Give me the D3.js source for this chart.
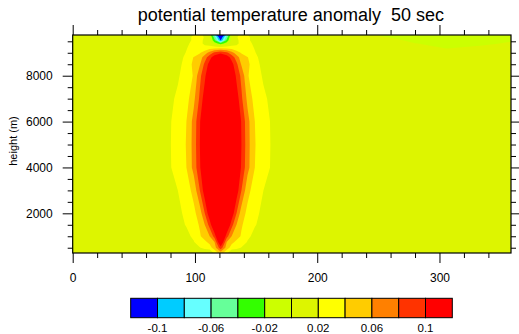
<!DOCTYPE html>
<html>
<head>
<meta charset="utf-8">
<script src="https://cdn.jsdelivr.net/npm/d3@7"></script>
<style>
  body { margin: 0; background: #fff; }
  svg { display: block; font-family: "Liberation Sans", Arial, Helvetica, sans-serif; }
</style>
</head>
<body>
<div id="chart"></div>
<script>
// grid columns (x) and rows (height in m)
const xs = [0, 61, 76, 86, 93, 99, 104, 108, 112, 116, 121, 126, 130, 134, 138, 143, 149, 156, 166, 181, 230, 250, 280, 306, 335, 358.5];
const zs = [270, 500, 750, 1000, 1500, 2000, 3000, 4000, 5000, 6000, 7000, 8000, 8500, 8800, 9000, 9200, 9400, 9550, 9680, 9775];

// potential temperature anomaly, one row per height (bottom -> top)
const z270  = [0.005, 0.006, 0.007, 0.008, 0.008, 0.008, 0.007, 0.003, -0.002, 0.025, 0.05, 0.025, -0.002, 0.003, 0.007, 0.008, 0.008, 0.008, 0.007, 0.006, 0.005, 0.003, -0.0005, -0.001, -0.0005, 0.003];
const z500  = [0.005, 0.006, 0.008, 0.009, 0.01, 0.012, 0.019, 0.026, 0.032, 0.05, 0.092, 0.05, 0.032, 0.026, 0.019, 0.012, 0.01, 0.009, 0.008, 0.006, 0.005, 0.005, 0.005, 0.005, 0.005, 0.005];
const z750  = [0.005, 0.007, 0.009, 0.011, 0.014, 0.019, 0.03, 0.036, 0.045, 0.06, 0.13, 0.06, 0.045, 0.036, 0.03, 0.019, 0.014, 0.011, 0.009, 0.007, 0.005, 0.005, 0.005, 0.005, 0.005, 0.005];
const z1000 = [0.005, 0.007, 0.01, 0.012, 0.016, 0.023, 0.038, 0.048, 0.06, 0.088, 0.15, 0.088, 0.06, 0.048, 0.038, 0.023, 0.016, 0.012, 0.01, 0.007, 0.005, 0.005, 0.005, 0.005, 0.005, 0.005];
const z1500 = [0.005, 0.008, 0.011, 0.015, 0.021, 0.032, 0.042, 0.06, 0.088, 0.13, 0.165, 0.13, 0.088, 0.06, 0.042, 0.032, 0.021, 0.015, 0.011, 0.008, 0.005, 0.005, 0.005, 0.005, 0.005, 0.005];
const z2000 = [0.005, 0.008, 0.012, 0.016, 0.024, 0.035, 0.05, 0.08, 0.115, 0.15, 0.17, 0.15, 0.115, 0.08, 0.05, 0.035, 0.024, 0.016, 0.012, 0.008, 0.005, 0.005, 0.005, 0.005, 0.005, 0.005];
const z3000 = [0.005, 0.008, 0.013, 0.02, 0.031, 0.046, 0.08, 0.112, 0.148, 0.168, 0.176, 0.168, 0.148, 0.112, 0.08, 0.046, 0.031, 0.02, 0.013, 0.008, 0.005, 0.005, 0.005, 0.005, 0.005, 0.005];
const z4000 = [0.005, 0.008, 0.014, 0.027, 0.04, 0.067, 0.097, 0.13, 0.156, 0.172, 0.178, 0.172, 0.156, 0.13, 0.097, 0.067, 0.04, 0.027, 0.014, 0.008, 0.005, 0.005, 0.005, 0.005, 0.005, 0.005];
const z5000 = [0.005, 0.008, 0.014, 0.028, 0.041, 0.068, 0.1, 0.135, 0.16, 0.175, 0.18, 0.175, 0.16, 0.135, 0.1, 0.068, 0.041, 0.028, 0.014, 0.008, 0.005, 0.005, 0.005, 0.005, 0.005, 0.005];
const z6000 = [0.005, 0.008, 0.014, 0.027, 0.04, 0.067, 0.098, 0.131, 0.157, 0.172, 0.178, 0.172, 0.157, 0.131, 0.098, 0.067, 0.04, 0.027, 0.014, 0.008, 0.005, 0.005, 0.005, 0.005, 0.005, 0.005];
const z7000 = [0.005, 0.008, 0.013, 0.023, 0.032, 0.055, 0.084, 0.112, 0.145, 0.165, 0.175, 0.165, 0.145, 0.112, 0.084, 0.055, 0.032, 0.023, 0.013, 0.008, 0.005, 0.005, 0.005, 0.005, 0.005, 0.005];
const z8000 = [0.005, 0.008, 0.012, 0.018, 0.028, 0.042, 0.075, 0.095, 0.125, 0.15, 0.165, 0.15, 0.125, 0.095, 0.075, 0.042, 0.028, 0.018, 0.012, 0.008, 0.005, 0.005, 0.005, 0.005, 0.005, 0.005];
const z8500 = [0.005, 0.007, 0.008, 0.012, 0.03, 0.044, 0.058, 0.085, 0.108, 0.128, 0.14, 0.128, 0.108, 0.085, 0.058, 0.044, 0.03, 0.012, 0.008, 0.007, 0.005, 0.005, 0.005, 0.005, 0.005, 0.005];
const z8800 = [0.005, 0.006, 0.008, 0.011, 0.025, 0.041, 0.05, 0.07, 0.092, 0.112, 0.125, 0.112, 0.092, 0.07, 0.05, 0.041, 0.025, 0.011, 0.008, 0.006, 0.005, 0.005, 0.005, 0.005, 0.005, 0.005];
const z9000 = [0.005, 0.005, 0.007, 0.011, 0.021, 0.03, 0.038, 0.05, 0.068, 0.085, 0.095, 0.085, 0.068, 0.05, 0.038, 0.03, 0.021, 0.011, 0.007, 0.005, 0.005, 0.005, 0.004, 0.003, 0.004, 0.004];
const z9200 = [0.005, 0.005, 0.007, 0.01, 0.019, 0.028, 0.03, 0.028, 0.033, 0.038, 0.04, 0.038, 0.033, 0.028, 0.03, 0.028, 0.019, 0.01, 0.007, 0.005, 0.005, 0.004, 0.003, -0.0002, 0.002, 0.003];
const z9400 = [0.005, 0.005, 0.006, 0.008, 0.016, 0.026, 0.025, 0.016, 0.008, -0.01, -0.03, -0.01, 0.008, 0.016, 0.025, 0.026, 0.016, 0.008, 0.006, 0.005, 0.005, 0.003, 0.0002, -0.002, -0.0015, 0.001];
const z9550 = [0.005, 0.005, 0.006, 0.007, 0.012, 0.024, 0.026, 0.016, 0.006, -0.035, -0.102, -0.035, 0.006, 0.016, 0.026, 0.024, 0.012, 0.007, 0.006, 0.005, 0.004, 0.003, -0.0015, -0.003, -0.003, -0.0008];
const z9680 = [0.005, 0.005, 0.006, 0.007, 0.012, 0.024, 0.028, 0.018, 0.004, -0.05, -0.12, -0.05, 0.004, 0.018, 0.028, 0.024, 0.012, 0.007, 0.006, 0.005, 0.004, 0.001, -0.003, -0.004, -0.004, -0.002];
const z9775 = [0.005, 0.005, 0.006, 0.006, 0.01, 0.021, 0.026, 0.015, 0.0, -0.07, -0.15, -0.07, 0.0, 0.015, 0.026, 0.021, 0.01, 0.006, 0.006, 0.005, 0.004, -0.0003, -0.004, -0.006, -0.005, -0.003];

const rows = [z270, z500, z750, z1000, z1500, z2000, z3000, z4000, z5000, z6000,
              z7000, z8000, z8500, z8800, z9000, z9200, z9400, z9550, z9680, z9775];

// contour levels and fill colours (one more colour than levels)
const levels = [-0.1, -0.08, -0.06, -0.04, -0.02, 0, 0.02, 0.04, 0.06, 0.08, 0.1];
const colors = ["#0000ff", "#00ccff", "#66ffff", "#66ff99", "#33ff00", "#ccff00",
                "#ddf500", "#ffff00", "#ffcc00", "#ff8000", "#ff3300", "#ff0000"];
const barLabels = ["-0.1", "", "-0.06", "", "-0.02", "", "0.02", "", "0.06", "", "0.1"];

const xTicks = [0, 100, 200, 300];
const xMinor = [20, 40, 60, 80, 120, 140, 160, 180, 220, 240, 260, 280, 320, 340];
const yTicks = [2000, 4000, 6000, 8000];
const yMinor = [500, 1000, 1500, 2500, 3000, 3500, 4500, 5000, 5500, 6500, 7000, 7500, 8500, 9000, 9500];

const titleText = "potential temperature anomaly  50 sec";
const yTitle = "height (m)";

const margin = {top: 35, left: 72.7, right: 8, bottom: 81};
const width = 519 - margin.left - margin.right;
const height = 334 - margin.top - margin.bottom;

const svg = d3.select("#chart")
  .append("svg")
  .attr("width", 519)
  .attr("height", 334);

const chart = svg.append("g")
  .attr("transform", `translate(${margin.left}, ${margin.top})`);

const x = d3.scaleLinear().domain([0, 358.5]).range([0, width]);
const y = d3.scaleLinear().domain([270, 9775]).range([height, 0]);

// --- filled contours ---
const nx = xs.length, nz = zs.length;
const contours = d3.contours()
  .size([nx, nz])
  .thresholds(levels)(rows.flat());

// grid index -> data coordinate (grid is not evenly spaced)
const ix = d3.scaleLinear().domain(d3.range(nx)).range(xs).clamp(true);
const iz = d3.scaleLinear().domain(d3.range(nz)).range(zs).clamp(true);

const path = d3.geoPath(d3.geoTransform({
  point(px, py) { this.stream.point(x(ix(px - 0.5)), y(iz(py - 0.5))); }
}));

chart.append("rect")
  .attr("width", width)
  .attr("height", height)
  .attr("fill", colors[0]);

chart.selectAll(".band")
  .data(contours)
  .join("path")
  .attr("class", "band")
  .attr("d", path)
  .attr("fill", (d, i) => colors[i + 1]);

// --- axes ---
function tidy(g) {
  g.select(".domain").remove();
  g.selectAll("line").attr("stroke", "#000");
}

chart.append("g")
  .attr("transform", `translate(0, ${height})`)
  .call(d3.axisBottom(x).tickValues(xMinor).tickSize(5).tickFormat(""))
  .call(tidy);
chart.append("g")
  .attr("transform", `translate(0, ${height})`)
  .call(d3.axisBottom(x).tickValues(xTicks).tickSize(10).tickPadding(10).tickFormat(d3.format("d")))
  .call(tidy)
  .selectAll("text").attr("font-size", 12).attr("fill", "#000");

chart.append("g")
  .call(d3.axisTop(x).tickValues(xMinor).tickSize(5).tickFormat(""))
  .call(tidy);
chart.append("g")
  .call(d3.axisTop(x).tickValues(xTicks).tickSize(10).tickFormat(""))
  .call(tidy);

chart.append("g")
  .call(d3.axisLeft(y).tickValues(yMinor).tickSize(5).tickFormat(""))
  .call(tidy);
chart.append("g")
  .call(d3.axisLeft(y).tickValues(yTicks).tickSize(10).tickPadding(10).tickFormat(d3.format("d")))
  .call(tidy)
  .selectAll("text").attr("font-size", 12).attr("fill", "#000");

chart.append("g")
  .attr("transform", `translate(${width}, 0)`)
  .call(d3.axisRight(y).tickValues(yMinor).tickSize(5).tickFormat(""))
  .call(tidy);
chart.append("g")
  .attr("transform", `translate(${width}, 0)`)
  .call(d3.axisRight(y).tickValues(yTicks).tickSize(10).tickFormat(""))
  .call(tidy);

// frame
chart.append("rect")
  .attr("width", width)
  .attr("height", height)
  .attr("fill", "none")
  .attr("stroke", "#000")
  .attr("stroke-width", 1.2);

// --- titles ---
svg.append("text")
  .attr("x", margin.left + width / 2 - 1)
  .attr("y", 20.5)
  .attr("text-anchor", "middle")
  .attr("font-size", 18)
  .style("white-space", "pre")
  .text(titleText);

svg.append("text")
  .attr("transform", `translate(17, ${margin.top + height / 2 - 3}) rotate(-90)`)
  .attr("text-anchor", "middle")
  .attr("font-size", 11)
  .text(yTitle);

// --- colour bar ---
const cb = d3.scaleLinear().domain([0, colors.length]).range([130.7, 452.3]);
const bar = svg.append("g");

bar.selectAll("rect")
  .data(colors)
  .join("rect")
  .attr("x", (d, i) => cb(i))
  .attr("y", 298.3)
  .attr("width", (d, i) => cb(i + 1) - cb(i))
  .attr("height", 19.4)
  .attr("fill", d => d)
  .attr("stroke", "#000")
  .attr("stroke-width", 1);

bar.selectAll("text")
  .data(barLabels)
  .join("text")
  .attr("x", (d, i) => cb(i + 1))
  .attr("y", 331.5)
  .attr("text-anchor", "middle")
  .attr("font-size", 11.5)
  .text(d => d);
</script>
</body>
</html>
